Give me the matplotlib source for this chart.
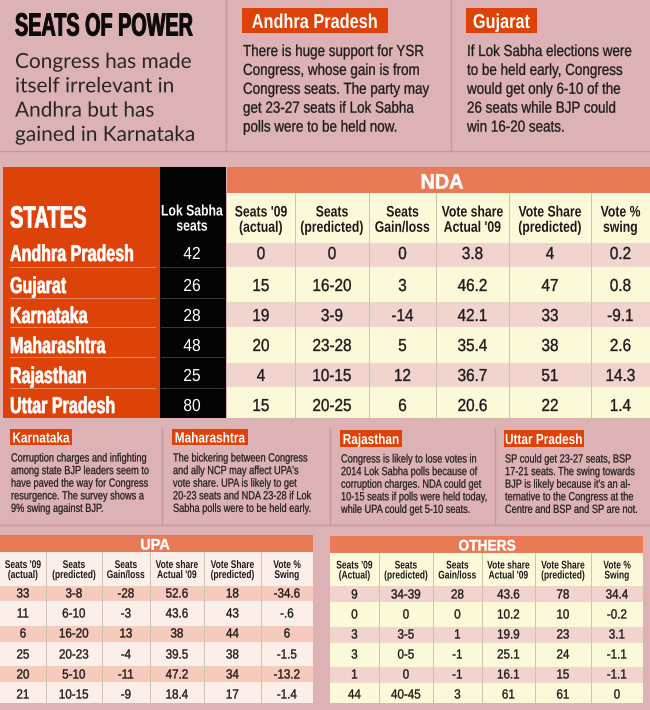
"""
Seats of Power - state wise seat projections table graphic.
Everything is laid out in pixel coordinates on one full figure axes.
No condensed face is installed, so text is squeezed sideways with a path effect.
"""
import matplotlib
matplotlib.use('Agg')
import matplotlib.pyplot as plt
import matplotlib.patches as patches
from matplotlib.patheffects import AbstractPathEffect
from matplotlib.text import Text
from matplotlib.transforms import Affine2D, Bbox

BG = '#dcb2b4'
ORANGE = '#dd4209'
SALMON = '#e97a56'
CREAM = '#fcf9d8'
ROW_PINK = '#f2d4cf'
UPA_PINK = '#f6cabc'
UPA_LIGHT = '#fcefe9'
LINE = '#c39a9c'
TEXT = '#1c1a1a'
SANS = 'Liberation Sans'

# data
states = ['Andhra Pradesh', 'Gujarat', 'Karnataka', 'Maharashtra', 'Rajasthan', 'Uttar Pradesh']
lok_sabha = ['42', '26', '28', '48', '25', '80']

nda_heads = ["Seats '09\n(actual)", 'Seats\n(predicted)', 'Seats\nGain/loss',
             "Vote share\nActual '09", 'Vote Share\n(predicted)', 'Vote %\nswing']
nda_seats09 = ['0', '15', '19', '20', '4', '15']
nda_pred = ['0', '16-20', '3-9', '23-28', '10-15', '20-25']
nda_gain = ['0', '3', '-14', '5', '12', '6']
nda_vote09 = ['3.8', '46.2', '42.1', '35.4', '36.7', '20.6']
nda_votepred = ['4', '47', '33', '38', '51', '22']
nda_swing = ['0.2', '0.8', '-9.1', '2.6', '14.3', '1.4']

upa_heads = ["Seats '09\n(actual)", 'Seats\n(predicted)', 'Seats\nGain/loss',
             "Vote share\nActual '09", 'Vote Share\n(predicted)', 'Vote %\nSwing']
upa_seats09 = ['33', '11', '6', '25', '20', '21']
upa_pred = ['3-8', '6-10', '16-20', '20-23', '5-10', '10-15']
upa_gain = ['-28', '-3', '13', '-4', '-11', '-9']
upa_vote09 = ['52.6', '43.6', '38', '39.5', '47.2', '18.4']
upa_votepred = ['18', '43', '44', '38', '34', '17']
upa_swing = ['-34.6', '-.6', '6', '-1.5', '-13.2', '-1.4']

oth_heads = ["Seats '09\n(Actual)", 'Seats\n(predicted)', 'Seats\nGain/loss',
             "Vote share\nActual '09", 'Vote Share\n(predicted)', 'Vote %\nSwing']
oth_seats09 = ['9', '0', '3', '3', '1', '44']
oth_pred = ['34-39', '0', '3-5', '0-5', '0', '40-45']
oth_gain = ['28', '0', '1', '-1', '-1', '3']
oth_vote09 = ['43.6', '10.2', '19.9', '25.1', '16.1', '61']
oth_votepred = ['78', '10', '23', '24', '15', '61']
oth_swing = ['34.4', '-0.2', '3.1', '-1.1', '-1.1', '0']

subtitle = ['Congress has made', 'itself irrelevant in', 'Andhra but has', 'gained in Karnataka']
andhra_note = ['There is huge support for YSR', 'Congress, whose gain is from',
               'Congress seats. The party may', 'get 23-27 seats if Lok Sabha',
               'polls were to be held now.']
gujarat_note = ['If Lok Sabha elections were', 'to be held early, Congress',
                'would get only 6-10 of the', '26 seats while BJP could', 'win 16-20 seats.']
karnataka_note = ['Corruption charges and infighting', 'among state BJP leaders seem to',
                  'have paved the way for Congress', 'resurgence. The survey shows a',
                  '9% swing against BJP.']
maharashtra_note = ['The bickering between Congress', "and ally NCP may affect UPA's",
                    'vote share. UPA is likely to get', '20-23 seats and NDA 23-28 if Lok',
                    'Sabha polls were to be held early.']
rajasthan_note = ['Congress is likely to lose votes in', '2014 Lok Sabha polls because of',
                  'corruption charges. NDA could get', '10-15 seats if polls were held today,',
                  'while UPA could get 5-10 seats.']
up_note = ['SP could get 23-27 seats, BSP', '17-21 seats. The swing towards',
           "BJP is likely because it's an al-", 'ternative to the Congress at the',
           'Centre and BSP and SP are not.']


class Squeeze(AbstractPathEffect):
    """Scale each text line sideways, thick fattens the weight a little"""

    def __init__(self, factor, ha, thick=0.0):
        super().__init__()
        self.factor = factor
        self.ha = ha
        self.thick = thick

    def draw_path(self, renderer, gc, tpath, affine, rgbFace=None):
        shift = 0
        if self.ha == 'center':
            shift = tpath.get_extents().x1 * (1 - self.factor) / 2
        gc0 = renderer.new_gc()
        gc0.copy_properties(gc)
        if self.thick:
            gc0.set_linewidth(self.thick)
            gc0.set_foreground(rgbFace)
        renderer.draw_path(gc0, tpath, Affine2D().scale(self.factor, 1).translate(shift, 0) + affine, rgbFace)
        gc0.restore()


class NarrowText(Text):
    """Text that reports the box it really covers after the squeeze"""

    def __init__(self, x, y, s, factor, **kwargs):
        super().__init__(x, y, s, **kwargs)
        self.factor = factor

    def get_window_extent(self, renderer=None, dpi=None):
        bb = super().get_window_extent(renderer, dpi)
        w = bb.width * self.factor
        x0 = bb.x0 if self.get_ha() == 'left' else (bb.x0 + bb.x1 - w) / 2
        return Bbox.from_extents(x0, bb.y0, x0 + w, bb.y1)


fig = plt.figure(figsize=(6.5, 7.1), dpi=100, facecolor=BG)
ax = fig.add_axes([0, 0, 1, 1])
ax.set_xlim(0, 650)
ax.set_ylim(710, 0)
ax.axis('off')


def box(x0, y0, x1, y1, color):
    ax.add_patch(patches.Rectangle((x0, y0), x1 - x0, y1 - y0, facecolor=color,
                                   edgecolor='none', linewidth=0))


def label(x, y, s, size, color=TEXT, weight='normal', family=SANS, ha='center', squeeze=1.0,
          thick=0.0, spacing=1.0):
    effect = Squeeze(squeeze, ha, thick)
    ax.add_artist(NarrowText(x, y, s, squeeze, fontsize=size, color=color, fontweight=weight,
                             family=family, ha=ha, va='center_baseline', linespacing=spacing,
                             path_effects=[effect]))


def note(x, y, w, h, title, title_size, lines, size, squeeze, first, step, thick=0.0):
    box(x, y, x + w, y + h, ORANGE)
    label(x + w / 2, y + h / 2, title, title_size, 'white', 'bold', squeeze=0.81)
    for i, line in enumerate(lines):
        label(x + 1, y + h + first + i * step, line, size, ha='left', squeeze=squeeze, thick=thick)


def table(edges, ys, mids, heads, columns, head_y, head_size, head_squeeze, head_spacing, cell_size, pink, light):
    # alternating rows, then the column rules and the text on top
    for i in range(len(ys) - 1):
        box(edges[0], ys[i], edges[-1], ys[i + 1], pink if i % 2 == 0 else light)
    for x in edges[1:-1]:
        ax.plot([x, x], [head_y[0], ys[-1]], color='#cdc3ad', lw=0.7)
    for c, col in enumerate(columns):
        xc = (edges[c] + edges[c + 1]) / 2
        label(xc, (head_y[0] + head_y[1]) / 2, heads[c], head_size, weight='bold',
              squeeze=head_squeeze, spacing=head_spacing)
        for i, val in enumerate(col):
            label(xc, mids[i], val, cell_size, squeeze=0.88, thick=0.25)


# top panel
ax.plot([0, 650], [151, 151], color=LINE, lw=1)
for x in (226, 451):
    ax.plot([x, x], [0, 151], color=LINE, lw=1)
label(15, 24, 'SEATS OF POWER', 23, '#0c0a0a', 'bold', ha='left', squeeze=0.62, thick=0.7)
for i, line in enumerate(subtitle):
    label(15, 60 + i * 24.3, line, 15, '#2a2626', family='Lato', ha='left')
note(242, 8, 146, 25, 'Andhra Pradesh', 14.5, andhra_note, 11.5, 0.84, 17, 18.9, 0.2)
note(466, 8, 71, 25, 'Gujarat', 14.5, gujarat_note, 11.5, 0.84, 17, 18.9, 0.2)

# main table, left blocks
box(3, 167, 160, 418, ORANGE)
box(160, 167, 226, 418, '#040404')
label(10, 216, 'STATES', 22, 'white', 'bold', ha='left', squeeze=0.66, thick=0.6)
label(192, 217, 'Lok Sabha\nseats', 11, 'white', 'bold', squeeze=0.8, spacing=1.1)
row_lines = [267, 298, 327, 357, 388]
row_mid = [253, 285, 315, 345, 375, 405]
for y in row_lines:
    ax.plot([10, 155], [y, y], color='#e58a68', lw=0.7)
    ax.plot([161, 224], [y, y], color='#3a3a3a', lw=0.7)
for i, s in enumerate(states):
    label(10, row_mid[i] - 1, s, 16.5, 'white', 'bold', ha='left', squeeze=0.7, thick=0.5)
    label(192, row_mid[i], lok_sabha[i], 12.5, 'white', squeeze=0.9)

# NDA
box(227, 167, 650, 193, SALMON)
label(442, 181, 'NDA', 15, 'white', 'bold', squeeze=0.95, thick=0.4)
box(227, 193, 650, 243, CREAM)
table([227, 295, 369, 436, 509, 591, 650], [243, 267, 302, 327, 363, 387, 418], row_mid, nda_heads,
      [nda_seats09, nda_pred, nda_gain, nda_vote09, nda_votepred, nda_swing],
      (193, 243), 11, 0.8, 1.12, 12.5, ROW_PINK, CREAM)

# state notes
ax.plot([0, 650], [525, 525], color=LINE, lw=1)
for x in (162, 330, 495):
    ax.plot([x, x], [428, 525], color=LINE, lw=1)
note(10, 429, 62, 16, 'Karnataka', 10.5, karnataka_note, 8.5, 0.78, 12, 12.6, 0.15)
note(172, 429, 76, 16, 'Maharashtra', 10.5, maharashtra_note, 8.5, 0.78, 12, 12.6, 0.15)
note(340, 430, 62, 17, 'Rajasthan', 10.5, rajasthan_note, 8.5, 0.78, 11, 12.6, 0.15)
note(504, 430, 80, 17, 'Uttar Pradesh', 10.5, up_note, 8.5, 0.78, 11, 12.6, 0.15)

# UPA
box(0, 535, 313, 552, SALMON)
label(155, 544, 'UPA', 11, 'white', 'bold', squeeze=0.95, thick=0.3)
box(0, 552, 313, 586, UPA_LIGHT)
table([0, 46, 102, 150, 204, 261, 313], [586, 601, 626, 642, 666, 682, 703],
      [593, 613, 633, 654, 674, 694], upa_heads,
      [upa_seats09, upa_pred, upa_gain, upa_vote09, upa_votepred, upa_swing],
      (552, 586), 8, 0.76, 1.0, 9.5, UPA_PINK, UPA_LIGHT)

# Others
box(330, 536, 643, 553, SALMON)
label(487, 545, 'OTHERS', 11, 'white', 'bold', squeeze=0.9, thick=0.3)
box(330, 553, 643, 586, CREAM)
table([330, 379, 433, 482, 535, 591, 643], [586, 602, 627, 643, 667, 683, 703],
      [594, 614, 634, 654, 674, 694], oth_heads,
      [oth_seats09, oth_pred, oth_gain, oth_vote09, oth_votepred, oth_swing],
      (553, 586), 8, 0.76, 1.0, 9.5, ROW_PINK, CREAM)

fig.savefig('out.png', dpi=100, facecolor=BG)
